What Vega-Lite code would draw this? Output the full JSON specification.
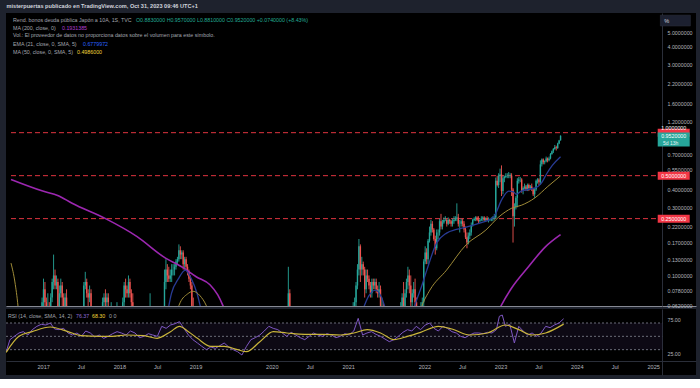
{
"$schema":"https://vega.github.io/schema/vega-lite/v6.json",
"background":"#1e222d",
"padding":{"left":5,"right":5,"top":4,"bottom":4},
"title":{"text":"misterpuertas publicado en TradingView.com, Oct 31, 2023 09:46 UTC+1","anchor":"start","fontSize":5.6,"fontWeight":"bold","color":"#d1d4dc","font":"Liberation Sans","offset":3,"dx":1},
"config":{"font":"Liberation Sans","view":{"fill":"#000000","stroke":null},"concat":{"spacing":0}},
"datasets":{
"candles":[
{"d":"2016-11-28","o":0.02,"h":0.045,"l":0.01,"c":0.04},
{"d":"2016-12-05","o":0.04,"h":0.07,"l":0.03,"c":0.065},
{"d":"2016-12-12","o":0.065,"h":0.095,"l":0.06,"c":0.08},
{"d":"2016-12-19","o":0.08,"h":0.09,"l":0.06,"c":0.065},
{"d":"2016-12-26","o":0.065,"h":0.07,"l":0.04,"c":0.045},
{"d":"2017-01-02","o":0.045,"h":0.075,"l":0.04,"c":0.06},
{"d":"2017-01-09","o":0.06,"h":0.065,"l":0.04,"c":0.05},
{"d":"2017-01-16","o":0.05,"h":0.075,"l":0.045,"c":0.07},
{"d":"2017-01-23","o":0.07,"h":0.095,"l":0.065,"c":0.09},
{"d":"2017-01-30","o":0.09,"h":0.14,"l":0.08,"c":0.1},
{"d":"2017-02-06","o":0.1,"h":0.11,"l":0.08,"c":0.085},
{"d":"2017-02-13","o":0.085,"h":0.1,"l":0.08,"c":0.09},
{"d":"2017-02-20","o":0.09,"h":0.095,"l":0.05,"c":0.055},
{"d":"2017-02-27","o":0.055,"h":0.085,"l":0.05,"c":0.075},
{"d":"2017-03-06","o":0.075,"h":0.095,"l":0.07,"c":0.085},
{"d":"2017-03-13","o":0.085,"h":0.09,"l":0.06,"c":0.07},
{"d":"2017-03-20","o":0.07,"h":0.075,"l":0.05,"c":0.06},
{"d":"2017-03-27","o":0.06,"h":0.075,"l":0.05,"c":0.07},
{"d":"2017-04-03","o":0.07,"h":0.08,"l":0.03,"c":0.04},
{"d":"2017-06-26","o":0.05,"h":0.09,"l":0.045,"c":0.085},
{"d":"2017-07-03","o":0.085,"h":0.106,"l":0.08,"c":0.09},
{"d":"2017-07-10","o":0.09,"h":0.095,"l":0.07,"c":0.075},
{"d":"2017-07-17","o":0.075,"h":0.08,"l":0.06,"c":0.07},
{"d":"2017-07-24","o":0.07,"h":0.085,"l":0.065,"c":0.075},
{"d":"2017-07-31","o":0.075,"h":0.08,"l":0.05,"c":0.06},
{"d":"2017-09-25","o":0.04,"h":0.07,"l":0.035,"c":0.065},
{"d":"2017-10-02","o":0.065,"h":0.075,"l":0.055,"c":0.07},
{"d":"2017-10-09","o":0.07,"h":0.08,"l":0.06,"c":0.065},
{"d":"2017-10-16","o":0.065,"h":0.075,"l":0.06,"c":0.07},
{"d":"2017-10-23","o":0.07,"h":0.075,"l":0.06,"c":0.065},
{"d":"2017-11-06","o":0.04,"h":0.065,"l":0.03,"c":0.06},
{"d":"2017-12-04","o":0.04,"h":0.065,"l":0.03,"c":0.05},
{"d":"2018-01-01","o":0.045,"h":0.07,"l":0.04,"c":0.065},
{"d":"2018-01-08","o":0.065,"h":0.09,"l":0.06,"c":0.085},
{"d":"2018-01-15","o":0.085,"h":0.095,"l":0.07,"c":0.08},
{"d":"2018-01-22","o":0.08,"h":0.085,"l":0.07,"c":0.075},
{"d":"2018-01-29","o":0.075,"h":0.1,"l":0.07,"c":0.09},
{"d":"2018-02-05","o":0.09,"h":0.095,"l":0.07,"c":0.075},
{"d":"2018-02-12","o":0.075,"h":0.08,"l":0.06,"c":0.065},
{"d":"2018-02-19","o":0.065,"h":0.075,"l":0.05,"c":0.055},
{"d":"2018-05-14","o":0.05,"h":0.075,"l":0.045,"c":0.06},
{"d":"2018-07-23","o":0.03,"h":0.11,"l":0.03,"c":0.09},
{"d":"2018-07-30","o":0.09,"h":0.13,"l":0.08,"c":0.11},
{"d":"2018-08-06","o":0.11,"h":0.12,"l":0.09,"c":0.1},
{"d":"2018-08-13","o":0.1,"h":0.115,"l":0.09,"c":0.095},
{"d":"2018-08-20","o":0.095,"h":0.11,"l":0.09,"c":0.1},
{"d":"2018-08-27","o":0.1,"h":0.12,"l":0.09,"c":0.11},
{"d":"2018-09-03","o":0.11,"h":0.12,"l":0.1,"c":0.11},
{"d":"2018-09-10","o":0.11,"h":0.12,"l":0.1,"c":0.115},
{"d":"2018-09-17","o":0.115,"h":0.13,"l":0.11,"c":0.125},
{"d":"2018-09-24","o":0.125,"h":0.135,"l":0.12,"c":0.13},
{"d":"2018-10-01","o":0.13,"h":0.165,"l":0.125,"c":0.15},
{"d":"2018-10-08","o":0.15,"h":0.16,"l":0.13,"c":0.14},
{"d":"2018-10-15","o":0.14,"h":0.15,"l":0.13,"c":0.145},
{"d":"2018-10-22","o":0.145,"h":0.15,"l":0.11,"c":0.12},
{"d":"2018-10-29","o":0.12,"h":0.135,"l":0.11,"c":0.13},
{"d":"2018-11-05","o":0.13,"h":0.135,"l":0.11,"c":0.115},
{"d":"2018-11-12","o":0.115,"h":0.12,"l":0.1,"c":0.105},
{"d":"2018-11-19","o":0.105,"h":0.11,"l":0.09,"c":0.095},
{"d":"2018-11-26","o":0.095,"h":0.1,"l":0.08,"c":0.085},
{"d":"2018-12-03","o":0.085,"h":0.09,"l":0.05,"c":0.06},
{"d":"2018-12-10","o":0.06,"h":0.07,"l":0.03,"c":0.035},
{"d":"2020-03-09","o":0.01,"h":0.06,"l":0.005,"c":0.05},
{"d":"2020-03-16","o":0.05,"h":0.115,"l":0.04,"c":0.075},
{"d":"2020-03-23","o":0.075,"h":0.08,"l":0.01,"c":0.02},
{"d":"2021-01-25","o":0.04,"h":0.065,"l":0.03,"c":0.055},
{"d":"2021-02-01","o":0.055,"h":0.07,"l":0.05,"c":0.065},
{"d":"2021-02-08","o":0.065,"h":0.09,"l":0.06,"c":0.085},
{"d":"2021-02-15","o":0.085,"h":0.12,"l":0.08,"c":0.11},
{"d":"2021-02-22","o":0.11,"h":0.18,"l":0.1,"c":0.16},
{"d":"2021-03-01","o":0.16,"h":0.165,"l":0.09,"c":0.11},
{"d":"2021-03-08","o":0.11,"h":0.135,"l":0.1,"c":0.12},
{"d":"2021-03-15","o":0.12,"h":0.125,"l":0.1,"c":0.11},
{"d":"2021-03-22","o":0.11,"h":0.115,"l":0.07,"c":0.08},
{"d":"2021-03-29","o":0.08,"h":0.11,"l":0.075,"c":0.1},
{"d":"2021-04-05","o":0.1,"h":0.11,"l":0.09,"c":0.095},
{"d":"2021-04-12","o":0.095,"h":0.1,"l":0.08,"c":0.085},
{"d":"2021-04-19","o":0.085,"h":0.09,"l":0.07,"c":0.075},
{"d":"2021-04-26","o":0.075,"h":0.095,"l":0.07,"c":0.09},
{"d":"2021-05-03","o":0.09,"h":0.095,"l":0.08,"c":0.085},
{"d":"2021-05-10","o":0.085,"h":0.095,"l":0.08,"c":0.09},
{"d":"2021-05-17","o":0.09,"h":0.095,"l":0.075,"c":0.08},
{"d":"2021-05-24","o":0.08,"h":0.085,"l":0.07,"c":0.075},
{"d":"2021-05-31","o":0.075,"h":0.09,"l":0.07,"c":0.08},
{"d":"2021-06-07","o":0.08,"h":0.085,"l":0.05,"c":0.055},
{"d":"2021-06-14","o":0.055,"h":0.07,"l":0.04,"c":0.06},
{"d":"2021-06-21","o":0.06,"h":0.065,"l":0.04,"c":0.05},
{"d":"2021-09-13","o":0.03,"h":0.065,"l":0.025,"c":0.055},
{"d":"2021-09-20","o":0.055,"h":0.075,"l":0.04,"c":0.07},
{"d":"2021-09-27","o":0.07,"h":0.09,"l":0.05,"c":0.06},
{"d":"2021-10-04","o":0.06,"h":0.08,"l":0.05,"c":0.075},
{"d":"2021-10-11","o":0.075,"h":0.095,"l":0.07,"c":0.09},
{"d":"2021-10-18","o":0.09,"h":0.115,"l":0.08,"c":0.1},
{"d":"2021-10-25","o":0.1,"h":0.11,"l":0.075,"c":0.085},
{"d":"2021-11-01","o":0.085,"h":0.1,"l":0.06,"c":0.065},
{"d":"2021-11-08","o":0.065,"h":0.08,"l":0.05,"c":0.075},
{"d":"2021-11-15","o":0.075,"h":0.09,"l":0.07,"c":0.08},
{"d":"2021-11-22","o":0.08,"h":0.095,"l":0.06,"c":0.065},
{"d":"2021-11-29","o":0.065,"h":0.07,"l":0.04,"c":0.05},
{"d":"2021-12-06","o":0.05,"h":0.06,"l":0.04,"c":0.05},
{"d":"2021-12-13","o":0.05,"h":0.055,"l":0.03,"c":0.04},
{"d":"2021-12-20","o":0.04,"h":0.065,"l":0.035,"c":0.06},
{"d":"2021-12-27","o":0.06,"h":0.07,"l":0.05,"c":0.065},
{"d":"2022-01-03","o":0.065,"h":0.13,"l":0.06,"c":0.125},
{"d":"2022-01-10","o":0.125,"h":0.16,"l":0.12,"c":0.145},
{"d":"2022-01-17","o":0.145,"h":0.155,"l":0.12,"c":0.13},
{"d":"2022-01-24","o":0.13,"h":0.18,"l":0.12,"c":0.175},
{"d":"2022-01-31","o":0.175,"h":0.22,"l":0.17,"c":0.2},
{"d":"2022-02-07","o":0.2,"h":0.245,"l":0.19,"c":0.23},
{"d":"2022-02-14","o":0.23,"h":0.24,"l":0.2,"c":0.21},
{"d":"2022-02-21","o":0.21,"h":0.215,"l":0.175,"c":0.18},
{"d":"2022-02-28","o":0.18,"h":0.19,"l":0.14,"c":0.155},
{"d":"2022-03-07","o":0.155,"h":0.21,"l":0.15,"c":0.2},
{"d":"2022-03-14","o":0.2,"h":0.21,"l":0.18,"c":0.2},
{"d":"2022-03-21","o":0.2,"h":0.25,"l":0.19,"c":0.24},
{"d":"2022-03-28","o":0.24,"h":0.27,"l":0.21,"c":0.22},
{"d":"2022-04-04","o":0.22,"h":0.245,"l":0.21,"c":0.235},
{"d":"2022-04-11","o":0.235,"h":0.255,"l":0.23,"c":0.245},
{"d":"2022-04-18","o":0.245,"h":0.26,"l":0.24,"c":0.245},
{"d":"2022-04-25","o":0.245,"h":0.25,"l":0.22,"c":0.23},
{"d":"2022-05-02","o":0.23,"h":0.255,"l":0.225,"c":0.245},
{"d":"2022-05-09","o":0.245,"h":0.25,"l":0.23,"c":0.24},
{"d":"2022-05-16","o":0.24,"h":0.245,"l":0.22,"c":0.23},
{"d":"2022-05-23","o":0.23,"h":0.25,"l":0.22,"c":0.24},
{"d":"2022-05-30","o":0.24,"h":0.26,"l":0.23,"c":0.245},
{"d":"2022-06-06","o":0.245,"h":0.26,"l":0.24,"c":0.25},
{"d":"2022-06-13","o":0.25,"h":0.32,"l":0.24,"c":0.255},
{"d":"2022-06-20","o":0.255,"h":0.27,"l":0.22,"c":0.23},
{"d":"2022-06-27","o":0.23,"h":0.245,"l":0.2,"c":0.23},
{"d":"2022-07-04","o":0.23,"h":0.25,"l":0.22,"c":0.24},
{"d":"2022-07-11","o":0.24,"h":0.25,"l":0.22,"c":0.23},
{"d":"2022-07-18","o":0.23,"h":0.24,"l":0.2,"c":0.21},
{"d":"2022-07-25","o":0.21,"h":0.22,"l":0.18,"c":0.185},
{"d":"2022-08-01","o":0.185,"h":0.2,"l":0.155,"c":0.17},
{"d":"2022-08-08","o":0.17,"h":0.2,"l":0.165,"c":0.19},
{"d":"2022-08-15","o":0.19,"h":0.21,"l":0.18,"c":0.2},
{"d":"2022-08-22","o":0.2,"h":0.235,"l":0.19,"c":0.225},
{"d":"2022-08-29","o":0.225,"h":0.25,"l":0.22,"c":0.245},
{"d":"2022-09-05","o":0.245,"h":0.255,"l":0.24,"c":0.25},
{"d":"2022-09-12","o":0.25,"h":0.26,"l":0.24,"c":0.255},
{"d":"2022-09-19","o":0.255,"h":0.26,"l":0.24,"c":0.245},
{"d":"2022-09-26","o":0.245,"h":0.26,"l":0.23,"c":0.24},
{"d":"2022-10-03","o":0.24,"h":0.25,"l":0.235,"c":0.245},
{"d":"2022-10-10","o":0.245,"h":0.26,"l":0.24,"c":0.25},
{"d":"2022-10-17","o":0.25,"h":0.26,"l":0.24,"c":0.255},
{"d":"2022-10-24","o":0.255,"h":0.26,"l":0.24,"c":0.245},
{"d":"2022-10-31","o":0.245,"h":0.255,"l":0.24,"c":0.25},
{"d":"2022-11-07","o":0.25,"h":0.26,"l":0.24,"c":0.245},
{"d":"2022-11-14","o":0.245,"h":0.255,"l":0.235,"c":0.245},
{"d":"2022-11-21","o":0.245,"h":0.25,"l":0.24,"c":0.245},
{"d":"2022-11-28","o":0.245,"h":0.255,"l":0.24,"c":0.25},
{"d":"2022-12-05","o":0.25,"h":0.26,"l":0.24,"c":0.255},
{"d":"2022-12-12","o":0.255,"h":0.27,"l":0.245,"c":0.255},
{"d":"2022-12-19","o":0.255,"h":0.485,"l":0.25,"c":0.46},
{"d":"2022-12-26","o":0.46,"h":0.5,"l":0.42,"c":0.43},
{"d":"2023-01-02","o":0.43,"h":0.52,"l":0.41,"c":0.5},
{"d":"2023-01-09","o":0.5,"h":0.56,"l":0.45,"c":0.51},
{"d":"2023-01-16","o":0.51,"h":0.59,"l":0.36,"c":0.39},
{"d":"2023-01-23","o":0.39,"h":0.5,"l":0.37,"c":0.48},
{"d":"2023-01-30","o":0.48,"h":0.5,"l":0.45,"c":0.49},
{"d":"2023-02-06","o":0.49,"h":0.52,"l":0.48,"c":0.5},
{"d":"2023-02-13","o":0.5,"h":0.52,"l":0.48,"c":0.5},
{"d":"2023-02-20","o":0.5,"h":0.53,"l":0.48,"c":0.5},
{"d":"2023-02-27","o":0.5,"h":0.52,"l":0.48,"c":0.5},
{"d":"2023-03-06","o":0.5,"h":0.52,"l":0.36,"c":0.4},
{"d":"2023-03-13","o":0.4,"h":0.41,"l":0.17,"c":0.26},
{"d":"2023-03-20","o":0.26,"h":0.32,"l":0.22,"c":0.3},
{"d":"2023-03-27","o":0.3,"h":0.36,"l":0.29,"c":0.35},
{"d":"2023-04-03","o":0.35,"h":0.48,"l":0.3,"c":0.46},
{"d":"2023-04-10","o":0.46,"h":0.49,"l":0.44,"c":0.47},
{"d":"2023-04-17","o":0.47,"h":0.49,"l":0.45,"c":0.47},
{"d":"2023-04-24","o":0.47,"h":0.48,"l":0.38,"c":0.39},
{"d":"2023-05-01","o":0.39,"h":0.42,"l":0.37,"c":0.41},
{"d":"2023-05-08","o":0.41,"h":0.44,"l":0.4,"c":0.42},
{"d":"2023-05-15","o":0.42,"h":0.43,"l":0.39,"c":0.4},
{"d":"2023-05-22","o":0.4,"h":0.44,"l":0.39,"c":0.43},
{"d":"2023-05-29","o":0.43,"h":0.44,"l":0.39,"c":0.41},
{"d":"2023-06-05","o":0.41,"h":0.43,"l":0.4,"c":0.42},
{"d":"2023-06-12","o":0.42,"h":0.44,"l":0.39,"c":0.4},
{"d":"2023-06-19","o":0.4,"h":0.41,"l":0.36,"c":0.37},
{"d":"2023-06-26","o":0.37,"h":0.41,"l":0.35,"c":0.4},
{"d":"2023-07-03","o":0.4,"h":0.47,"l":0.39,"c":0.46},
{"d":"2023-07-10","o":0.46,"h":0.48,"l":0.44,"c":0.47},
{"d":"2023-07-17","o":0.47,"h":0.48,"l":0.43,"c":0.45},
{"d":"2023-07-24","o":0.45,"h":0.64,"l":0.43,"c":0.6},
{"d":"2023-07-31","o":0.6,"h":0.66,"l":0.58,"c":0.65},
{"d":"2023-08-07","o":0.65,"h":0.66,"l":0.6,"c":0.62},
{"d":"2023-08-14","o":0.62,"h":0.64,"l":0.6,"c":0.63},
{"d":"2023-08-21","o":0.63,"h":0.68,"l":0.62,"c":0.66},
{"d":"2023-08-28","o":0.66,"h":0.67,"l":0.62,"c":0.64},
{"d":"2023-09-04","o":0.64,"h":0.68,"l":0.63,"c":0.66},
{"d":"2023-09-11","o":0.66,"h":0.72,"l":0.65,"c":0.71},
{"d":"2023-09-18","o":0.71,"h":0.75,"l":0.7,"c":0.74},
{"d":"2023-09-25","o":0.74,"h":0.78,"l":0.72,"c":0.77},
{"d":"2023-10-02","o":0.77,"h":0.82,"l":0.76,"c":0.79},
{"d":"2023-10-09","o":0.79,"h":0.81,"l":0.75,"c":0.78},
{"d":"2023-10-16","o":0.78,"h":0.85,"l":0.77,"c":0.84},
{"d":"2023-10-23","o":0.84,"h":0.89,"l":0.83,"c":0.88},
{"d":"2023-10-30","o":0.883,"h":0.957,"l":0.881,"c":0.952}
],
"ma":[
{"s":"MA200","g":"m1","d":"2016-07-07","p":0.47},
{"s":"MA200","g":"m1","d":"2016-12-08","p":0.39},
{"s":"MA200","g":"m1","d":"2017-02-22","p":0.362},
{"s":"MA200","g":"m1","d":"2017-04-30","p":0.32},
{"s":"MA200","g":"m1","d":"2017-10-05","p":0.252},
{"s":"MA200","g":"m1","d":"2018-03-12","p":0.187},
{"s":"MA200","g":"m1","d":"2018-07-19","p":0.135},
{"s":"MA200","g":"m1","d":"2018-10-23","p":0.113},
{"s":"MA200","g":"m1","d":"2018-12-24","p":0.098},
{"s":"MA200","g":"m1","d":"2019-03-01","p":0.086},
{"s":"MA200","g":"m1","d":"2019-04-08","p":0.073},
{"s":"MA200","g":"m1","d":"2019-05-02","p":0.062},
{"s":"MA200","g":"m1","d":"2019-06-19","p":0.04},
{"s":"MA200","g":"m2","d":"2022-11-15","p":0.04},
{"s":"MA200","g":"m2","d":"2023-01-13","p":0.061},
{"s":"MA200","g":"m2","d":"2023-03-07","p":0.082},
{"s":"MA200","g":"m2","d":"2023-05-27","p":0.115},
{"s":"MA200","g":"m2","d":"2023-08-16","p":0.158},
{"s":"MA200","g":"m2","d":"2023-10-30","p":0.193},
{"s":"EMA21","g":"e1","d":"2018-08-02","p":0.05},
{"s":"EMA21","g":"e1","d":"2018-08-26","p":0.075},
{"s":"EMA21","g":"e1","d":"2018-09-29","p":0.095},
{"s":"EMA21","g":"e1","d":"2018-11-01","p":0.109},
{"s":"EMA21","g":"e1","d":"2018-11-30","p":0.095},
{"s":"EMA21","g":"e1","d":"2018-12-28","p":0.075},
{"s":"EMA21","g":"e1","d":"2019-01-26","p":0.05},
{"s":"EMA21","g":"e2","d":"2021-03-08","p":0.055},
{"s":"EMA21","g":"e2","d":"2021-04-11","p":0.072},
{"s":"EMA21","g":"e2","d":"2021-05-14","p":0.079},
{"s":"EMA21","g":"e2","d":"2021-06-12","p":0.07},
{"s":"EMA21","g":"e2","d":"2021-07-06","p":0.055},
{"s":"EMA21","g":"e3","d":"2021-11-02","p":0.05},
{"s":"EMA21","g":"e3","d":"2021-11-26","p":0.065},
{"s":"EMA21","g":"e3","d":"2021-12-25","p":0.085},
{"s":"EMA21","g":"e3","d":"2022-01-18","p":0.109},
{"s":"EMA21","g":"e3","d":"2022-03-07","p":0.169},
{"s":"EMA21","g":"e3","d":"2022-04-24","p":0.198},
{"s":"EMA21","g":"e3","d":"2022-06-11","p":0.21},
{"s":"EMA21","g":"e3","d":"2022-07-28","p":0.218},
{"s":"EMA21","g":"e3","d":"2022-09-28","p":0.232},
{"s":"EMA21","g":"e3","d":"2022-12-09","p":0.257},
{"s":"EMA21","g":"e3","d":"2023-01-17","p":0.34},
{"s":"EMA21","g":"e3","d":"2023-02-20","p":0.39},
{"s":"EMA21","g":"e3","d":"2023-03-15","p":0.385},
{"s":"EMA21","g":"e3","d":"2023-03-29","p":0.37},
{"s":"EMA21","g":"e3","d":"2023-04-22","p":0.39},
{"s":"EMA21","g":"e3","d":"2023-06-28","p":0.41},
{"s":"EMA21","g":"e3","d":"2023-07-27","p":0.44},
{"s":"EMA21","g":"e3","d":"2023-08-25","p":0.52},
{"s":"EMA21","g":"e3","d":"2023-09-20","p":0.59},
{"s":"EMA21","g":"e3","d":"2023-10-30","p":0.678},
{"s":"MA50","g":"y1","d":"2016-07-07","p":0.122},
{"s":"MA50","g":"y1","d":"2016-07-26","p":0.09},
{"s":"MA50","g":"y1","d":"2016-08-10","p":0.061},
{"s":"MA50","g":"y1","d":"2016-08-18","p":0.045},
{"s":"MA50","g":"y2","d":"2018-09-10","p":0.05},
{"s":"MA50","g":"y2","d":"2018-10-08","p":0.065},
{"s":"MA50","g":"y2","d":"2018-11-11","p":0.074},
{"s":"MA50","g":"y2","d":"2018-12-09","p":0.0775},
{"s":"MA50","g":"y2","d":"2019-01-12","p":0.072},
{"s":"MA50","g":"y2","d":"2019-02-10","p":0.062},
{"s":"MA50","g":"y2","d":"2019-03-06","p":0.05},
{"s":"MA50","g":"y3","d":"2021-12-06","p":0.05},
{"s":"MA50","g":"y3","d":"2021-12-25","p":0.061},
{"s":"MA50","g":"y3","d":"2022-02-02","p":0.079},
{"s":"MA50","g":"y3","d":"2022-04-24","p":0.109},
{"s":"MA50","g":"y3","d":"2022-07-28","p":0.164},
{"s":"MA50","g":"y3","d":"2022-11-01","p":0.208},
{"s":"MA50","g":"y3","d":"2023-01-03","p":0.257},
{"s":"MA50","g":"y3","d":"2023-03-07","p":0.296},
{"s":"MA50","g":"y3","d":"2023-04-22","p":0.31},
{"s":"MA50","g":"y3","d":"2023-06-28","p":0.35},
{"s":"MA50","g":"y3","d":"2023-08-29","p":0.42},
{"s":"MA50","g":"y3","d":"2023-10-30","p":0.4986}
],
"rsi":[
{"d":"2016-07-08","v":27},{"d":"2016-07-26","v":45},{"d":"2016-08-16","v":50},{"d":"2016-09-07","v":55},{"d":"2016-09-28","v":57},{"d":"2016-10-20","v":52},{"d":"2016-11-10","v":60},{"d":"2016-12-02","v":65},{"d":"2016-12-23","v":68},{"d":"2017-01-14","v":67},{"d":"2017-02-04","v":70},{"d":"2017-02-25","v":61},{"d":"2017-03-18","v":60},{"d":"2017-04-09","v":62},{"d":"2017-04-30","v":55},{"d":"2017-05-22","v":52},{"d":"2017-06-12","v":55},{"d":"2017-07-03","v":50},{"d":"2017-07-24","v":58},{"d":"2017-08-15","v":55},{"d":"2017-09-05","v":49},{"d":"2017-09-27","v":52},{"d":"2017-10-18","v":47},{"d":"2017-11-08","v":50},{"d":"2017-11-30","v":54},{"d":"2017-12-21","v":57},{"d":"2018-01-11","v":55},{"d":"2018-02-02","v":52},{"d":"2018-02-23","v":58},{"d":"2018-03-17","v":55},{"d":"2018-04-07","v":48},{"d":"2018-04-29","v":50},{"d":"2018-05-20","v":54},{"d":"2018-06-10","v":52},{"d":"2018-07-02","v":50},{"d":"2018-07-23","v":65},{"d":"2018-08-13","v":62},{"d":"2018-09-03","v":67},{"d":"2018-09-25","v":69},{"d":"2018-10-16","v":72},{"d":"2018-11-06","v":62},{"d":"2018-11-28","v":52},{"d":"2018-12-19","v":45},{"d":"2019-01-10","v":40},{"d":"2019-01-31","v":35},{"d":"2019-02-22","v":30},{"d":"2019-03-15","v":34},{"d":"2019-04-06","v":32},{"d":"2019-04-27","v":36},{"d":"2019-05-18","v":40},{"d":"2019-06-09","v":34},{"d":"2019-06-30","v":30},{"d":"2019-07-21","v":27},{"d":"2019-08-11","v":22},{"d":"2019-09-02","v":35},{"d":"2019-09-23","v":45},{"d":"2019-10-14","v":48},{"d":"2019-11-05","v":52},{"d":"2019-11-26","v":58},{"d":"2019-12-18","v":65},{"d":"2020-01-08","v":62},{"d":"2020-01-30","v":60},{"d":"2020-02-20","v":55},{"d":"2020-03-13","v":50},{"d":"2020-04-03","v":56},{"d":"2020-04-25","v":52},{"d":"2020-05-16","v":48},{"d":"2020-06-07","v":45},{"d":"2020-06-28","v":50},{"d":"2020-07-19","v":55},{"d":"2020-08-10","v":52},{"d":"2020-08-31","v":50},{"d":"2020-09-21","v":54},{"d":"2020-10-13","v":52},{"d":"2020-11-03","v":48},{"d":"2020-11-25","v":50},{"d":"2020-12-16","v":54},{"d":"2021-01-06","v":52},{"d":"2021-01-28","v":58},{"d":"2021-02-18","v":77},{"d":"2021-03-11","v":52},{"d":"2021-04-01","v":55},{"d":"2021-04-23","v":57},{"d":"2021-05-14","v":53},{"d":"2021-06-05","v":50},{"d":"2021-06-26","v":46},{"d":"2021-07-17","v":42},{"d":"2021-08-08","v":45},{"d":"2021-08-29","v":50},{"d":"2021-09-20","v":56},{"d":"2021-10-12","v":60},{"d":"2021-11-02","v":58},{"d":"2021-11-23","v":65},{"d":"2021-12-14","v":60},{"d":"2022-01-05","v":67},{"d":"2022-01-26","v":70},{"d":"2022-02-16","v":62},{"d":"2022-03-09","v":58},{"d":"2022-03-31","v":65},{"d":"2022-04-21","v":62},{"d":"2022-05-13","v":57},{"d":"2022-06-03","v":55},{"d":"2022-06-24","v":50},{"d":"2022-07-15","v":48},{"d":"2022-08-06","v":52},{"d":"2022-08-27","v":55},{"d":"2022-09-18","v":55},{"d":"2022-10-09","v":54},{"d":"2022-10-31","v":56},{"d":"2022-11-21","v":55},{"d":"2022-12-12","v":60},{"d":"2022-12-26","v":80},{"d":"2023-01-09","v":82},{"d":"2023-01-24","v":65},{"d":"2023-02-14","v":68},{"d":"2023-03-08","v":40},{"d":"2023-03-29","v":65},{"d":"2023-04-19","v":58},{"d":"2023-05-11","v":52},{"d":"2023-06-01","v":55},{"d":"2023-06-23","v":50},{"d":"2023-07-14","v":55},{"d":"2023-08-05","v":65},{"d":"2023-08-26","v":63},{"d":"2023-09-16","v":67},{"d":"2023-10-08","v":70},{"d":"2023-10-30","v":76.37}
],
"rsima":[
{"d":"2016-07-08","v":26},{"d":"2016-09-07","v":50},{"d":"2016-11-09","v":57},{"d":"2017-02-04","v":64},{"d":"2017-04-30","v":57},{"d":"2017-07-03","v":51},{"d":"2017-09-27","v":50},{"d":"2017-11-29","v":50},{"d":"2018-02-02","v":52},{"d":"2018-04-29","v":51},{"d":"2018-07-01","v":47},{"d":"2018-09-03","v":57},{"d":"2018-10-16","v":65},{"d":"2018-11-28","v":57},{"d":"2019-01-10","v":47},{"d":"2019-03-15","v":35},{"d":"2019-05-18","v":35},{"d":"2019-07-21","v":30},{"d":"2019-09-02","v":27},{"d":"2019-11-05","v":42},{"d":"2020-01-08","v":57},{"d":"2020-03-13","v":55},{"d":"2020-06-07","v":53},{"d":"2020-08-31","v":53},{"d":"2020-11-25","v":52},{"d":"2021-01-28","v":55},{"d":"2021-04-02","v":60},{"d":"2021-06-05","v":55},{"d":"2021-08-08","v":45},{"d":"2021-10-12","v":50},{"d":"2021-12-14","v":56},{"d":"2022-03-09","v":65},{"d":"2022-05-13","v":61},{"d":"2022-08-06","v":52},{"d":"2022-10-31","v":55},{"d":"2023-01-24","v":67},{"d":"2023-03-29","v":60},{"d":"2023-06-02","v":52},{"d":"2023-08-05","v":55},{"d":"2023-10-30","v":68.3}
]
},
"vconcat":[
{
"width":690,"height":293,
"layer":[
{"data":{"values":[{"p":1.0},{"p":0.5},{"p":0.25}]},
 "mark":{"type":"rule","color":"#e0343f","strokeWidth":1,"strokeDash":[5,3]},
 "encoding":{
  "x":{"datum":{"year":2016,"month":7,"date":7},"type":"temporal","scale":{"domain":[{"year":2016,"month":7,"date":7},{"year":2025,"month":7,"date":25}]},"axis":{"orient":"bottom","labels":false,"ticks":false,"grid":false,"domain":true,"domainColor":"#868993","domainWidth":1,"title":null}},
  "x2":{"datum":{"year":2025,"month":2,"date":13}},
  "y":{"field":"p","type":"quantitative","title":null,"scale":{"type":"log","domain":[0.0611,6.89],"nice":false},
   "axis":{"orient":"right","offset":-34,"values":[5,4,3,2.2,1.6,1.2,0.7,0.55,0.4,0.3,0.22,0.17,0.13,0.1,0.078,0.062],"format":".7f","labelColor":"#b2b5be","labelFontSize":5.3,"labelPadding":5,"ticks":false,"grid":false,"domain":true,"domainColor":"#2a2e39","labelOverlap":false,"labelBound":false,"labelFlush":false,"title":null}}
 }},
{"data":{"name":"candles"},
 "mark":{"type":"rule","strokeWidth":0.9,"clip":true},
 "encoding":{
  "x":{"field":"d","type":"temporal","title":null,"scale":{"domain":[{"year":2016,"month":7,"date":7},{"year":2025,"month":7,"date":25}]}},
  "y":{"field":"l","type":"quantitative","title":null,"scale":{"type":"log","domain":[0.0611,6.89],"nice":false}},
  "y2":{"field":"h"},
  "color":{"condition":{"test":"datum.c >= datum.o","value":"#26a69a"},"value":"#ef5350"}
 }},
{"data":{"name":"candles"},
 "mark":{"type":"bar","size":1.4,"clip":true},
 "encoding":{
  "x":{"field":"d","type":"temporal","title":null,"scale":{"domain":[{"year":2016,"month":7,"date":7},{"year":2025,"month":7,"date":25}]}},
  "y":{"field":"o","type":"quantitative","title":null,"scale":{"type":"log","domain":[0.0611,6.89],"nice":false}},
  "y2":{"field":"c"},
  "color":{"condition":{"test":"datum.c >= datum.o","value":"#26a69a"},"value":"#ef5350"}
 }},
{"data":{"name":"ma"},
 "mark":{"type":"line","clip":true,"interpolate":"monotone"},
 "encoding":{
  "x":{"field":"d","type":"temporal","title":null,"scale":{"domain":[{"year":2016,"month":7,"date":7},{"year":2025,"month":7,"date":25}]}},
  "y":{"field":"p","type":"quantitative","title":null,"scale":{"type":"log","domain":[0.0611,6.89],"nice":false}},
  "detail":{"field":"g"},
  "color":{"field":"s","type":"nominal","legend":null,"scale":{"domain":["MA200","EMA21","MA50"],"range":["#9c27b0","#283b94","#a08c38"]}},
  "strokeWidth":{"field":"s","type":"nominal","legend":null,"scale":{"domain":["MA200","EMA21","MA50"],"range":[1.6,1,1]}}
 }},
{"data":{"values":[{}]},"mark":{"type":"text","align":"left","baseline":"middle","fontSize":5.3,"dx":2,"dy":6.5,"color":"#a3a6af","text":"Rend. bonos deuda pública Japón a 10A, 1S, TVC"},
 "encoding":{"x":{"datum":{"year":2016,"month":7,"date":7},"type":"temporal"},"y":{"datum":6.89}}},
{"data":{"values":[{}]},"mark":{"type":"text","align":"left","baseline":"middle","fontSize":5.3,"dx":125,"dy":6.5,"color":"#22ab94","text":"O0.8830000  H0.9570000  L0.8810000  C0.9520000  +0.0740000 (+8.43%)"},
 "encoding":{"x":{"datum":{"year":2016,"month":7,"date":7},"type":"temporal"},"y":{"datum":6.89}}},
{"data":{"values":[{}]},"mark":{"type":"text","align":"left","baseline":"middle","fontSize":5.3,"dx":2,"dy":14.9,"color":"#a3a6af","text":"MA (200, close, 0)"},
 "encoding":{"x":{"datum":{"year":2016,"month":7,"date":7},"type":"temporal"},"y":{"datum":6.89}}},
{"data":{"values":[{}]},"mark":{"type":"text","align":"left","baseline":"middle","fontSize":5.3,"dx":51,"dy":14.9,"color":"#b13fd0","text":"0.1931385"},
 "encoding":{"x":{"datum":{"year":2016,"month":7,"date":7},"type":"temporal"},"y":{"datum":6.89}}},
{"data":{"values":[{}]},"mark":{"type":"text","align":"left","baseline":"middle","fontSize":5.3,"dx":2,"dy":22.3,"color":"#a3a6af","text":"Vol.: El proveedor de datos no proporciona datos sobre el volumen para este símbolo."},
 "encoding":{"x":{"datum":{"year":2016,"month":7,"date":7},"type":"temporal"},"y":{"datum":6.89}}},
{"data":{"values":[{}]},"mark":{"type":"text","align":"left","baseline":"middle","fontSize":5.3,"dx":2,"dy":30.5,"color":"#a3a6af","text":"EMA (21, close, 0, SMA, 5)"},
 "encoding":{"x":{"datum":{"year":2016,"month":7,"date":7},"type":"temporal"},"y":{"datum":6.89}}},
{"data":{"values":[{}]},"mark":{"type":"text","align":"left","baseline":"middle","fontSize":5.3,"dx":72,"dy":30.5,"color":"#2962ff","text":"0.6779972"},
 "encoding":{"x":{"datum":{"year":2016,"month":7,"date":7},"type":"temporal"},"y":{"datum":6.89}}},
{"data":{"values":[{}]},"mark":{"type":"text","align":"left","baseline":"middle","fontSize":5.3,"dx":2,"dy":38.9,"color":"#a3a6af","text":"MA (50, close, 0, SMA, 5)"},
 "encoding":{"x":{"datum":{"year":2016,"month":7,"date":7},"type":"temporal"},"y":{"datum":6.89}}},
{"data":{"values":[{}]},"mark":{"type":"text","align":"left","baseline":"middle","fontSize":5.3,"dx":66,"dy":38.9,"color":"#f5d63a","text":"0.4986000"},
 "encoding":{"x":{"datum":{"year":2016,"month":7,"date":7},"type":"temporal"},"y":{"datum":6.89}}},
{"data":{"values":[{"p":0.5},{"p":0.25}]},
 "mark":{"type":"point","shape":"M-1,-0.25H1V0.25H-1Z","size":1024,"filled":true,"opacity":1,"color":"#f23645"},
 "encoding":{"x":{"datum":{"year":2025,"month":5,"date":2},"type":"temporal"},"y":{"field":"p","type":"quantitative","title":null,"scale":{"type":"log","domain":[0.0611,6.89],"nice":false}}}},
{"data":{"values":[{"p":1.0}]},
 "mark":{"type":"point","shape":"M-1,-0.25H1V0.25H-1Z","size":1024,"filled":true,"opacity":1,"color":"#f23645","dy":-4.7},
 "encoding":{"x":{"datum":{"year":2025,"month":5,"date":2},"type":"temporal"},"y":{"field":"p","type":"quantitative","title":null,"scale":{"type":"log","domain":[0.0611,6.89],"nice":false}}}},
{"data":{"values":[{"p":0.952}]},
 "mark":{"type":"point","shape":"M-1,-0.2H1V0.67H-1Z","size":1024,"filled":true,"opacity":1,"color":"#26a69a"},
 "encoding":{"x":{"datum":{"year":2025,"month":5,"date":2},"type":"temporal"},"y":{"field":"p","type":"quantitative","title":null,"scale":{"type":"log","domain":[0.0611,6.89],"nice":false}}}},
{"data":{"values":[{"p":0.5,"t":"0.5000000"},{"p":0.25,"t":"0.2500000"}]},
 "mark":{"type":"text","align":"center","baseline":"middle","fontSize":5.3,"color":"#ffffff"},
 "encoding":{"x":{"datum":{"year":2025,"month":5,"date":2},"type":"temporal"},"y":{"field":"p","type":"quantitative","title":null,"scale":{"type":"log","domain":[0.0611,6.89],"nice":false}},"text":{"field":"t"}}},
{"data":{"values":[{"p":1.0,"t":"1.0000000"}]},
 "mark":{"type":"text","align":"center","baseline":"middle","fontSize":5.3,"color":"#ffffff","dy":-4.7},
 "encoding":{"x":{"datum":{"year":2025,"month":5,"date":2},"type":"temporal"},"y":{"field":"p","type":"quantitative","title":null,"scale":{"type":"log","domain":[0.0611,6.89],"nice":false}},"text":{"field":"t"}}},
{"data":{"values":[{"p":0.952,"t":"0.9520000"}]},
 "mark":{"type":"text","align":"center","baseline":"middle","fontSize":5.3,"color":"#ffffff","dy":0.4},
 "encoding":{"x":{"datum":{"year":2025,"month":5,"date":2},"type":"temporal"},"y":{"field":"p","type":"quantitative","title":null,"scale":{"type":"log","domain":[0.0611,6.89],"nice":false}},"text":{"field":"t"}}},
{"data":{"values":[{"p":0.952,"t":"5d 13h"}]},
 "mark":{"type":"text","align":"center","baseline":"middle","fontSize":5,"color":"#e0f2f1","dy":7.4,"dx":-3},
 "encoding":{"x":{"datum":{"year":2025,"month":5,"date":2},"type":"temporal"},"y":{"field":"p","type":"quantitative","title":null,"scale":{"type":"log","domain":[0.0611,6.89],"nice":false}},"text":{"field":"t"}}},
{"data":{"values":[{}]},
 "mark":{"type":"point","shape":"M-1,-0.36H1V0.36H-1Z","size":900,"filled":true,"opacity":1,"color":"#1c2030","stroke":"#2a2e39","strokeWidth":0.6},
 "encoding":{"x":{"datum":{"year":2025,"month":5,"date":10},"type":"temporal"},"y":{"datum":6.1}}},
{"data":{"values":[{}]},
 "mark":{"type":"text","align":"left","baseline":"middle","fontSize":5.6,"color":"#d1d4dc","dx":-11,"text":"%"},
 "encoding":{"x":{"datum":{"year":2025,"month":5,"date":10},"type":"temporal"},"y":{"datum":6.1}}}
]
},
{
"width":690,"height":66,
"layer":[
{"data":{"values":[{}]},
 "mark":{"type":"rect","color":"#7e57c2","opacity":0.1},
 "encoding":{
  "x":{"datum":{"year":2016,"month":7,"date":7},"type":"temporal","scale":{"domain":[{"year":2016,"month":7,"date":7},{"year":2025,"month":7,"date":25}]},
   "axis":{"orient":"bottom","offset":-14,"values":[{"year":2017,"month":1,"date":1},{"year":2017,"month":7,"date":1},{"year":2018,"month":1,"date":1},{"year":2018,"month":7,"date":1},{"year":2019,"month":1,"date":1},{"year":2020,"month":1,"date":1},{"year":2020,"month":7,"date":1},{"year":2021,"month":1,"date":1},{"year":2022,"month":1,"date":1},{"year":2022,"month":7,"date":1},{"year":2023,"month":1,"date":1},{"year":2023,"month":7,"date":1},{"year":2024,"month":1,"date":1},{"year":2024,"month":7,"date":1},{"year":2025,"month":1,"date":1}],
   "labelExpr":"month(datum.value) == 0 ? timeFormat(datum.value, '%Y') : 'Jul'","ticks":false,"grid":false,"domain":true,"domainColor":"#2a2e39","labelColor":"#b2b5be","labelFontSize":5.6,"labelPadding":3,"labelOverlap":false,"labelFlush":false,
   "title":"TradingView","titleAnchor":"start","titleAlign":"left","titleX":10,"titleColor":"#d1d4dc","titleFontSize":6.2,"titleFontWeight":"normal","titlePadding":6}},
  "x2":{"datum":{"year":2025,"month":2,"date":13}},
  "y":{"datum":30,"type":"quantitative","scale":{"domain":[-8,91],"nice":false,"zero":false},
   "axis":{"orient":"right","offset":-34,"values":[25,50,75],"format":".2f","labelColor":"#b2b5be","labelFontSize":5.3,"labelPadding":5,"ticks":false,"grid":false,"domain":true,"domainColor":"#2a2e39","labelOverlap":false,"title":null}},
  "y2":{"datum":70}
 }},
{"data":{"values":[{"v":70},{"v":50},{"v":30}]},
 "mark":{"type":"rule","color":"#6a6d78","strokeWidth":1,"strokeDash":[2,2]},
 "encoding":{
  "x":{"datum":{"year":2016,"month":7,"date":7},"type":"temporal"},
  "x2":{"datum":{"year":2025,"month":2,"date":13}},
  "y":{"field":"v","type":"quantitative","title":null}
 }},
{"data":{"name":"rsi"},
 "mark":{"type":"line","color":"#7e57c2","strokeWidth":1,"clip":true},
 "encoding":{"x":{"field":"d","type":"temporal","title":null},"y":{"field":"v","type":"quantitative","title":null}}},
{"data":{"name":"rsima"},
 "mark":{"type":"line","color":"#c9b53a","strokeWidth":1.2,"interpolate":"monotone","clip":true},
 "encoding":{"x":{"field":"d","type":"temporal","title":null},"y":{"field":"v","type":"quantitative","title":null}}},
{"data":{"values":[{}]},"mark":{"type":"text","align":"left","baseline":"middle","fontSize":5.3,"dx":2,"dy":6.5,"color":"#a3a6af","text":"RSI (14, close, SMA, 14, 2)"},
 "encoding":{"x":{"datum":{"year":2016,"month":7,"date":7},"type":"temporal"},"y":{"datum":91}}},
{"data":{"values":[{}]},"mark":{"type":"text","align":"left","baseline":"middle","fontSize":5.3,"dx":70,"dy":6.5,"color":"#8e6ad6","text":"76.37"},
 "encoding":{"x":{"datum":{"year":2016,"month":7,"date":7},"type":"temporal"},"y":{"datum":91}}},
{"data":{"values":[{}]},"mark":{"type":"text","align":"left","baseline":"middle","fontSize":5.3,"dx":86,"dy":6.5,"color":"#f5d63a","text":"68.30"},
 "encoding":{"x":{"datum":{"year":2016,"month":7,"date":7},"type":"temporal"},"y":{"datum":91}}},
{"data":{"values":[{}]},"mark":{"type":"text","align":"left","baseline":"middle","fontSize":5.3,"dx":103,"dy":6.5,"color":"#a3a6af","text":"0  0"},
 "encoding":{"x":{"datum":{"year":2016,"month":7,"date":7},"type":"temporal"},"y":{"datum":91}}}
]
}
]
}
